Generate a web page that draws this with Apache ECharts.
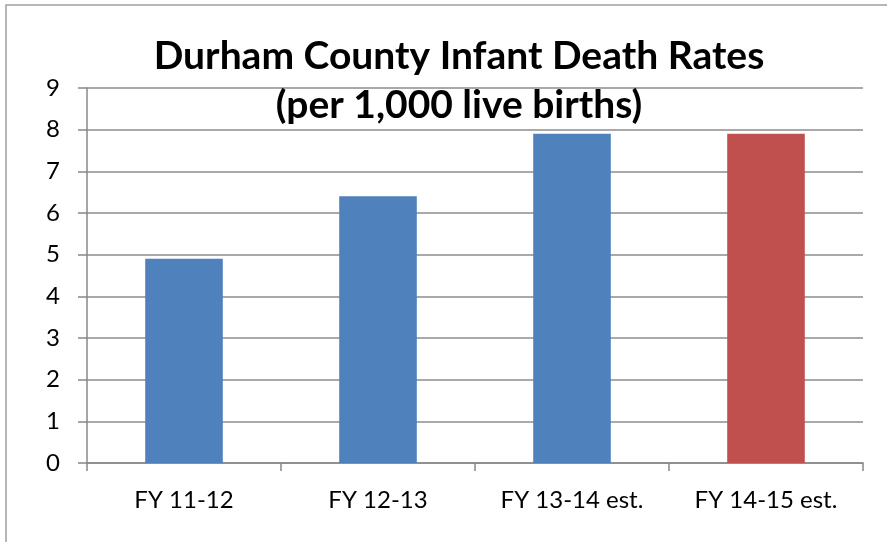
<!DOCTYPE html>
<html>
<head>
<meta charset="utf-8">
<script src="https://cdn.jsdelivr.net/npm/echarts@6/dist/echarts.min.js"></script>
<style>
  html, body { margin: 0; padding: 0; background: #fff; }
  #chart { width: 887px; height: 542px; }
</style>
</head>
<body>
<div id="chart"></div>
<script>
const categories = ["FY 11-12", "FY 12-13", "FY 13-14 est.", "FY 14-15 est."];
const rates = [4.9, 6.4, 7.9, 7.9];
const barColors = ["#4F81BD", "#4F81BD", "#4F81BD", "#C0504D"];

const myChart = echarts.init(document.getElementById("chart"));
const font = "Lato, 'Open Sans', sans-serif";

let option = {
  backgroundColor: "#fff",
  animation: false,
  title: {
    text: "Durham County Infant Death Rates\n(per 1,000 live births)",
    left: 454,
    textAlign: "center",
    top: 27,
    textStyle: {
      fontFamily: font,
      fontWeight: "bold",
      fontSize: 39,
      lineHeight: 49,
      color: "#000",
    },
  },
  graphic: [
    {
      type: "rect",
      shape: { x: 6, y: 5, width: 900, height: 560 },
      style: { fill: "none", stroke: "#a0a0a0", lineWidth: 1.5 },
      silent: true,
      z: -1,
    },
  ],
  grid: { left: 87, right: 24, top: 88, bottom: 79 },
  xAxis: {
    type: "category",
    data: categories,
    axisLine: { lineStyle: { color: "#888", width: 1.5 } },
    axisTick: { show: true, length: 8, lineStyle: { color: "#888", width: 1.5 } },
    axisLabel: { fontFamily: font, fontSize: 24, color: "#000", margin: 25 },
  },
  yAxis: {
    type: "value",
    min: 0,
    max: 9,
    interval: 1,
    axisLine: { show: true, lineStyle: { color: "#888", width: 1.5 } },
    axisTick: { show: true, length: 9, lineStyle: { color: "#888", width: 1.5 } },
    axisLabel: { fontFamily: font, fontSize: 24, color: "#000", margin: 27 },
    splitLine: { lineStyle: { color: "#8c8c8c", width: 1.5 } },
  },
  series: [
    {
      type: "bar",
      barWidth: "40%",
      data: rates.map((v, i) => ({ value: v, itemStyle: { color: barColors[i] } })),
    },
  ],
};
option && myChart.setOption(option);
</script>
</body>
</html>
